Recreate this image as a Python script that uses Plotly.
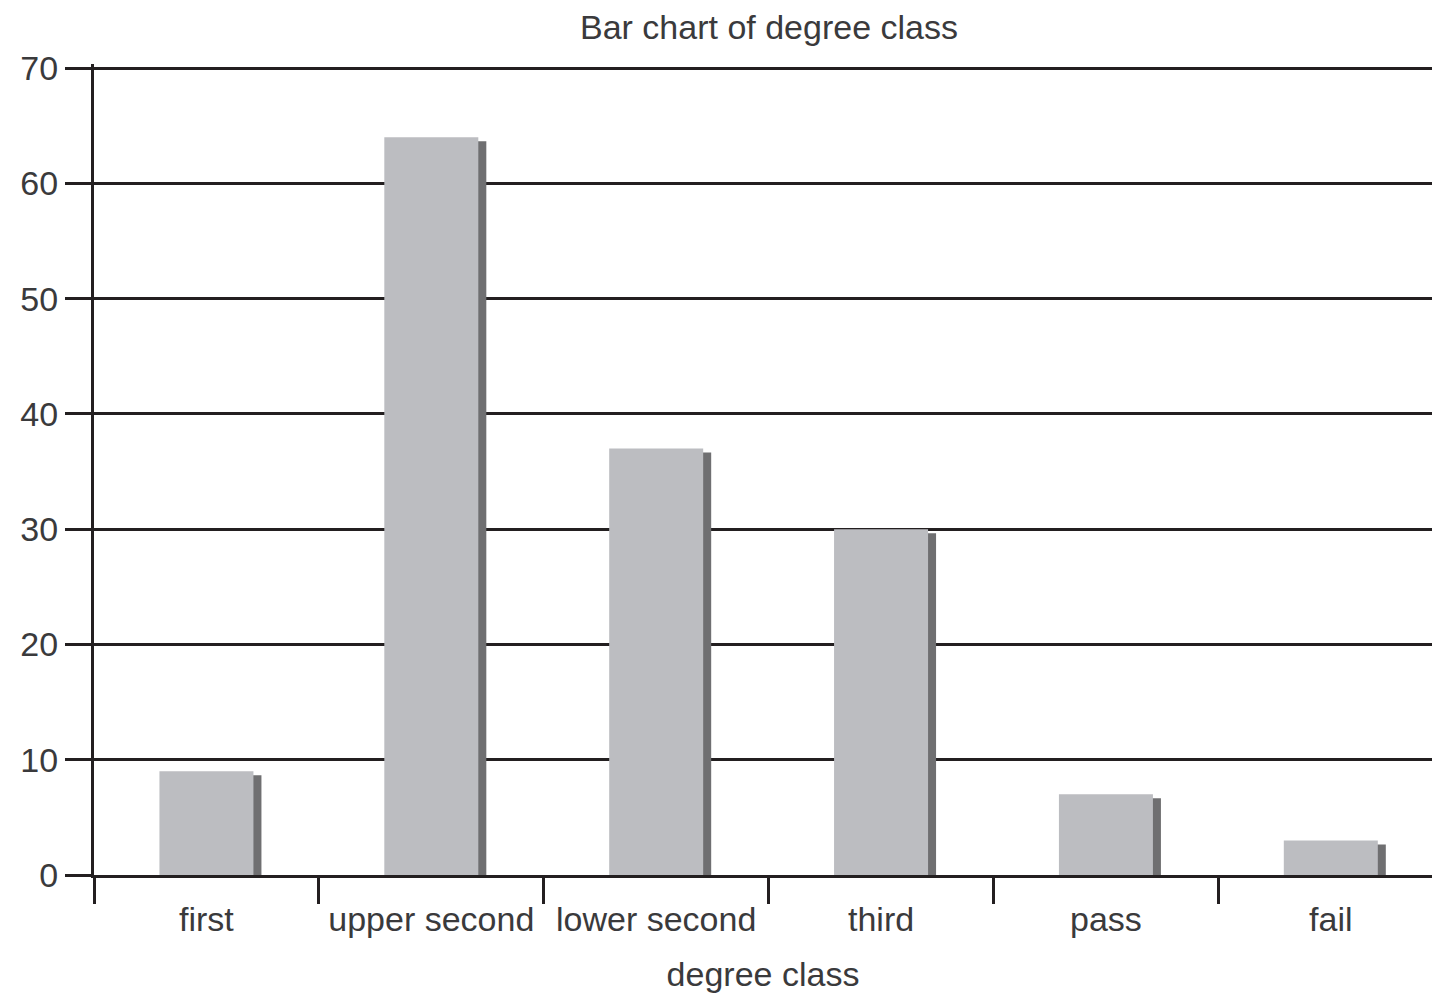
import plotly.graph_objects as go

categories = ["first", "upper second", "lower second", "third", "pass", "fail"]
counts = [9, 64, 37, 30, 7, 3]
y_ticks = [0, 10, 20, 30, 40, 50, 60, 70]

BAR_COLOR = "#bcbdc1"
SHADOW_COLOR = "#6f6f71"
LINE_COLOR = "#231f20"
TEXT_COLOR = "#3a3a3c"
FONT = "Liberation Sans, Arial, sans-serif"

BAR_W = 0.418
SHADOW_DX = 0.0356
SHADOW_DROP = 0.35

fig = go.Figure()
fig.add_trace(go.Bar(
    x=categories, y=[c - SHADOW_DROP for c in counts],
    width=BAR_W, offset=-BAR_W / 2 + SHADOW_DX,
    marker=dict(color=SHADOW_COLOR, line=dict(width=0)),
    hoverinfo="skip", showlegend=False,
))
fig.add_trace(go.Bar(
    x=categories, y=counts,
    width=BAR_W, offset=-BAR_W / 2,
    marker=dict(color=BAR_COLOR, line=dict(width=0)),
    showlegend=False,
))

fig.update_layout(
    width=1432, height=996,
    barmode="overlay",
    plot_bgcolor="white", paper_bgcolor="white",
    margin=dict(l=94, r=0, t=64, b=121, autoexpand=False),
    font=dict(family=FONT, size=34, color=TEXT_COLOR),
    title=dict(text="Bar chart of degree class", x=769 / 1432, xanchor="center",
               y=1 - 27 / 996, yanchor="middle", yref="container",
               font=dict(family=FONT, size=34, color=TEXT_COLOR)),
)
fig.update_xaxes(
    type="category", range=[-0.5, 5.45], automargin=False,
    showline=True, linewidth=3, linecolor=LINE_COLOR,
    ticks="outside", ticklen=26, tickwidth=3, tickcolor=LINE_COLOR,
    tickson="boundaries", showgrid=False, ticklabelstandoff=12,
    tickfont=dict(family=FONT, size=34, color=TEXT_COLOR),
    title=dict(text="degree class", standoff=26,
               font=dict(family=FONT, size=34, color=TEXT_COLOR)),
)
fig.update_yaxes(
    range=[0, 70.35], tickvals=y_ticks, automargin=False,
    showline=True, linewidth=3, linecolor=LINE_COLOR,
    ticks="outside", ticklen=26, tickwidth=3, tickcolor=LINE_COLOR,
    showgrid=True, gridwidth=3, gridcolor=LINE_COLOR, zeroline=False,
    tickfont=dict(family=FONT, size=34, color=TEXT_COLOR),
)

fig.write_html("out.html", config={"displayModeBar": False},
               post_script="document.body.style.margin='0';")
